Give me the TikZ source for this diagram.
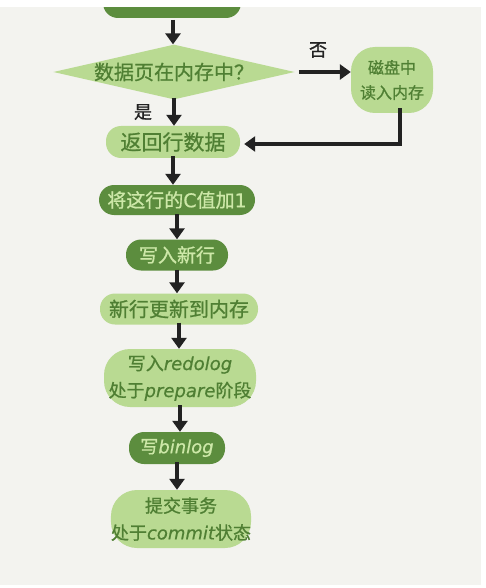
\documentclass[tikz,border=0pt]{standalone}
\usepackage{fontspec}
\setmainfont{Noto Sans CJK SC}[FakeBold=0.9]
\newfontfamily\lat{DejaVu Sans}[FakeBold=0.6]
\usetikzlibrary{shapes.geometric,arrows.meta}
\definecolor{bg}{HTML}{F3F3EF}
\definecolor{darkg}{HTML}{5C8D3E}
\definecolor{lightg}{HTML}{B9DA92}
\definecolor{txtdark}{HTML}{4F7F33}
\definecolor{txtlight}{HTML}{CDE8A8}
\definecolor{ink}{HTML}{222222}
\tikzset{
  blob/.style={rectangle, rounded corners=15pt, inner sep=0pt, align=center, font=\fontsize{18}{27}\selectfont},
  lightblob/.style={blob, fill=lightg, text=txtdark},
  darkblob/.style={blob, fill=darkg, text=txtlight},
  arr/.style={draw=ink, line width=3.4pt, -{Triangle[length=11pt,width=15pt]}},
  lbl/.style={text=ink, font=\fontsize{18}{20}\selectfont, inner sep=0pt}
}
\begin{document}
\begin{tikzpicture}[x=1pt,y=-1pt]
\useasboundingbox (0,0) rectangle (486,588);
\fill[white] (0,0) rectangle (486,588);
\fill[bg] (0,7) rectangle (481,585);
% top node (cut off by the frame)
\node[darkblob, minimum width=138pt, minimum height=32pt] (top) at (172,2) {\raisebox{9pt}{取ID=2这一行}};
\fill[white] (0,0) rectangle (486,7);
\node[diamond, fill=lightg, text=txtdark, minimum width=238pt, minimum height=54pt, aspect=4.4, inner sep=0pt, font=\fontsize{20}{20}\selectfont] (dia) at (174,72) {数据页在内存中？};
\node[lightblob, rounded corners=24pt, minimum width=82pt, minimum height=66pt, font=\fontsize{16}{25}\selectfont] (disk) at (392,80) {磁盘中\\读入内存};
\node[lightblob, minimum width=134pt, minimum height=32pt, font=\fontsize{21}{22}\selectfont] (ret) at (173,142) {返回行数据};
\node[darkblob, minimum width=156pt, minimum height=30pt, font=\fontsize{19}{20}\selectfont] (incr) at (177,200) {将这行的{\lat C}值加{\lat 1}};
\node[darkblob, minimum width=102pt, minimum height=31pt, font=\fontsize{19}{20}\selectfont] (wnew) at (177,255) {写入新行};
\node[lightblob, minimum width=158pt, minimum height=31pt, font=\fontsize{20}{20}\selectfont] (upd) at (179,309) {新行更新到内存};
\node[lightblob, rounded corners=26pt, minimum width=152pt, minimum height=58pt] (redo) at (180,378) {写入{\lat\itshape redolog}\\处于{\lat\itshape prepare}阶段};
\node[darkblob, minimum width=96pt, minimum height=32pt] (bin) at (177,448) {写{\lat\itshape binlog}};
\node[lightblob, rounded corners=26pt, minimum width=138pt, minimum height=58pt] (com) at (181,519) {提交事务\\处于{\lat\itshape commit}状态};
\node[lbl] (no) at (318,50) {否};
\node[lbl] (yes) at (143,112) {是};
\coordinate (topb) at (173,20);
\draw[arr] (topb) -- (topb |- dia.north);
\draw[arr] ([xshift=4pt]dia.east) -- (dia.east -| disk.west);
\draw[arr] ([yshift=2pt]dia.south) -- (dia.south |- ret.north);
\draw[arr] ([xshift=8pt,yshift=5pt]disk.south) |- ([xshift=4pt,yshift=-2pt]ret.east);
\draw[arr] ([yshift=2pt]ret.south) -- (ret.south |- incr.north);
\draw[arr] ([yshift=1pt]incr.south) -- (incr.south |- wnew.north);
\draw[arr] ([yshift=1pt]wnew.south) -- (wnew.south |- upd.north);
\draw[arr] ([yshift=2pt]upd.south) -- (upd.south |- redo.north);
\draw[arr] ([yshift=2pt]redo.south) -- (redo.south |- bin.north);
\draw[arr] ([yshift=2pt]bin.south) -- (bin.south |- com.north);
\end{tikzpicture}
\end{document}
